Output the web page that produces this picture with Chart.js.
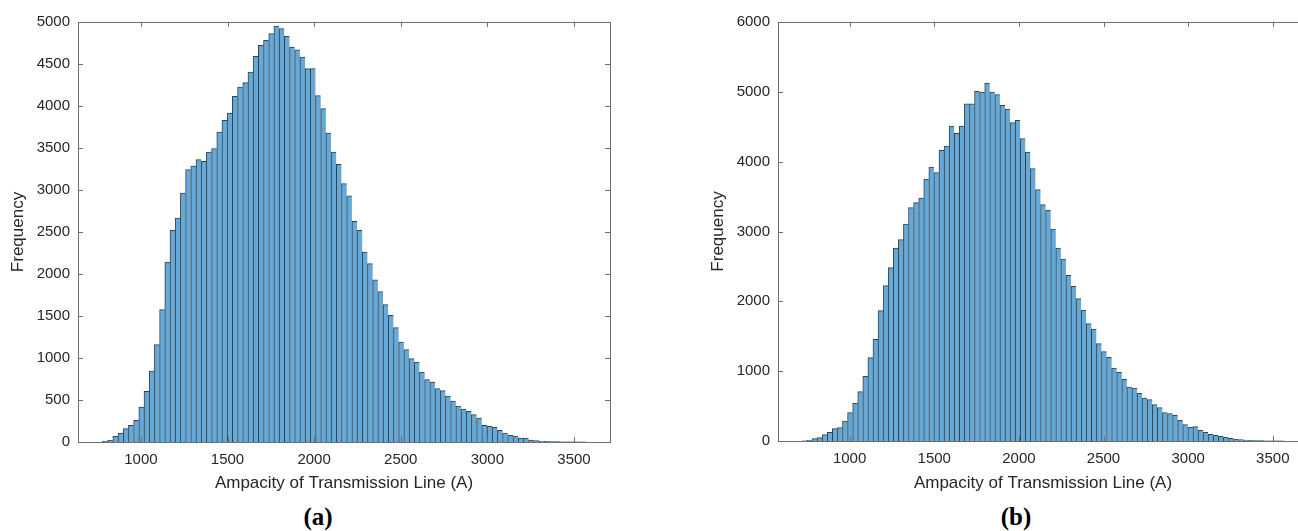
<!DOCTYPE html>
<html>
<head>
<meta charset="utf-8">
<script src="https://cdn.jsdelivr.net/npm/chart.js@4.4.1/dist/chart.umd.min.js"></script>
<style>
  body { margin: 0; width: 1298px; height: 531px; overflow: hidden; background: #fff; position: relative; }
  canvas { position: absolute; top: 0; }
  #chartA { left: 0; }
  #chartB { left: 700px; }
  .caption { position: absolute; top: 502px; width: 100px; line-height: 30px; text-align: center;
             font-family: "Liberation Serif", serif; font-weight: bold; font-size: 25px; color: #000; }
</style>
</head>
<body>
<canvas id="chartA" width="640" height="500"></canvas>
<canvas id="chartB" width="640" height="500"></canvas>
<div class="caption" style="left:268px">(a)</div>
<div class="caption" style="left:966px">(b)</div>
<script>
// histogram bins (A), 30 A wide
const binWidth = 30;
const binStartA = 778;
const binStartB = 718;

// counts
const countsA = [10, 20, 67, 107, 159, 198, 258, 417, 603, 845, 1159, 1575, 2143, 2520, 2667,
  2964, 3242, 3286, 3361, 3341, 3452, 3492, 3690, 3829, 3916, 4115, 4226, 4278, 4405, 4591,
  4722, 4782, 4861, 4952, 4921, 4829, 4702, 4670, 4583, 4444, 4444, 4123, 3968, 3678, 3452,
  3305, 3075, 2932, 2627, 2520, 2262, 2123, 1932, 1790, 1635, 1508, 1361, 1190, 1099, 992,
  952, 833, 742, 714, 635, 611, 548, 488, 429, 393, 365, 325, 286, 198, 187, 175, 139, 107,
  79, 71, 48, 48, 24, 16, 12, 8, 4, 4, 3, 2, 1, 1, 1];

// counts
const countsB = [3, 10, 33, 48, 91, 124, 177, 191, 286, 406, 539, 706, 926, 1193, 1456, 1866,
  2224, 2482, 2764, 2883, 3107, 3341, 3413, 3480, 3752, 3923, 3842, 4162, 4224, 4511, 4405,
  4511, 4830, 4830, 5007, 4998, 5126, 4997, 4959, 4806, 4754, 4558, 4592, 4329, 4139, 3900,
  3599, 3384, 3303, 3036, 2764, 2606, 2372, 2215, 2038, 1876, 1680, 1604, 1394, 1279, 1198,
  1045, 983, 883, 773, 759, 683, 616, 592, 520, 477, 406, 391, 368, 296, 234, 196, 205, 153,
  124, 95, 81, 67, 53, 38, 24, 19, 14, 10, 5, 5, 4, 3, 2, 1];

const xTicks = [1000, 1500, 2000, 2500, 3000, 3500];
const yTicksA = [0, 500, 1000, 1500, 2000, 2500, 3000, 3500, 4000, 4500, 5000];
const yTicksB = [0, 1000, 2000, 3000, 4000, 5000, 6000];
const xLimA = [637, 3708];
const xLimB = [577, 3708];

const xLabel = 'Ampacity of Transmission Line (A)';
const yLabel = 'Frequency';
const textColor = '#262626';
const axisColor = '#6e6e6e';

// box around the plot + inward tick marks, like matlab
const frameTicks = {
  id: 'frameTicks',
  afterDatasetsDraw(chart) {
    const { ctx, chartArea: a, scales: { x, y } } = chart;
    ctx.save();
    ctx.strokeStyle = axisColor;
    ctx.lineWidth = 1;
    ctx.beginPath();
    x.ticks.forEach(t => {
      const px = Math.round(x.getPixelForValue(t.value)) + 0.5;
      ctx.moveTo(px, a.bottom); ctx.lineTo(px, a.bottom - 5);
      ctx.moveTo(px, a.top); ctx.lineTo(px, a.top + 5);
    });
    y.ticks.forEach(t => {
      const py = Math.round(y.getPixelForValue(t.value)) + 0.5;
      ctx.moveTo(a.left, py); ctx.lineTo(a.left + 5, py);
      ctx.moveTo(a.right, py); ctx.lineTo(a.right - 5, py);
    });
    ctx.stroke();
    ctx.strokeRect(a.left + 0.5, a.top + 0.5, a.right - a.left, a.bottom - a.top);
    ctx.restore();
  }
};

function histData(start, counts) {
  return counts.map((c, i) => ({ x: start + binWidth * (i + 0.5), y: c }));
}

const plain = v => String(v);

function makeChart(id, start, counts, xLim, yTicks, padRight, xHeight) {
  const ctx = document.getElementById(id).getContext('2d');
  return new Chart(ctx, {
    type: 'bar',
    data: {
      datasets: [{
        data: histData(start, counts),
        backgroundColor: '#64a9d8',
        borderColor: 'rgba(25,30,35,0.85)',
        borderWidth: { top: 1, left: 1, right: 0, bottom: 0 },
        barPercentage: 1,
        categoryPercentage: 1
      }]
    },
    options: {
      responsive: false,
      animation: false,
      layout: { padding: { left: 0, top: 22, right: padRight, bottom: 0 } },
      plugins: { legend: { display: false }, tooltip: { enabled: false } },
      scales: {
        x: {
          type: 'linear',
          offset: false,
          min: xLim[0], max: xLim[1],
          afterBuildTicks: s => { s.ticks = xTicks.map(v => ({ value: v })); },
          afterFit: s => { s.height = xHeight; },
          grid: { display: false, drawTicks: false },
          border: { display: false },
          ticks: { color: textColor, padding: 9, maxRotation: 0, callback: plain,
                   font: { family: 'Liberation Sans', size: 15 } },
          title: { display: true, text: xLabel, color: textColor, padding: { top: 6, bottom: 6 },
                   font: { family: 'Liberation Sans', size: 17 } }
        },
        y: {
          min: yTicks[0], max: yTicks[yTicks.length - 1],
          afterBuildTicks: s => { s.ticks = yTicks.map(v => ({ value: v })); },
          afterFit: s => { s.width = 78; },
          grid: { display: false, drawTicks: false },
          border: { display: false },
          ticks: { color: textColor, padding: 8, callback: plain,
                   font: { family: 'Liberation Sans', size: 15 } },
          title: { display: true, text: yLabel, color: textColor, padding: { top: 8, bottom: 8 },
                   font: { family: 'Liberation Sans', size: 17 } }
        }
      }
    },
    plugins: [frameTicks]
  });
}

makeChart('chartA', binStartA, countsA, xLimA, yTicksA, 30, 58);
makeChart('chartB', binStartB, countsB, xLimB, yTicksB, 32, 59);
</script>
</body>
</html>
